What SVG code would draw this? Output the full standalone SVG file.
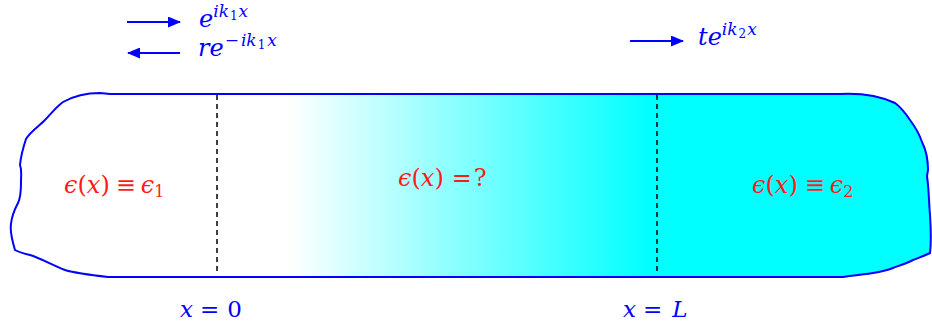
<svg xmlns="http://www.w3.org/2000/svg" width="932" height="325" viewBox="0 0 932 325">
<style>
.m{font-family:"DejaVu Serif","Liberation Serif",serif}
.top{font-size:24px}
.lab{font-size:24px}
.bot{font-size:23px}
.b{fill:#0000ff}
.r{fill:#ff1a1a}
.i{font-style:italic}
.sup{font-size:17px}
.sub{font-size:12px}
.sub2{font-size:16px}
.arr{stroke:#0000ff;stroke-width:2;fill:none}
.dash{stroke:#000;stroke-width:1.5;stroke-dasharray:5,4;fill:none}
</style>
<defs>
<linearGradient id="g" gradientUnits="userSpaceOnUse" x1="290" y1="0" x2="650" y2="0">
<stop offset="0" stop-color="#ffffff"/>
<stop offset="1" stop-color="#00ffff"/>
</linearGradient>
<marker id="ah" viewBox="0 0 13 11" refX="12" refY="5.5" markerWidth="13" markerHeight="11" orient="auto" markerUnits="userSpaceOnUse">
<path d="M0,0 L13,5.5 L0,11 z" fill="#0000ff"/>
</marker>
</defs>
<g id="slab">
<path d="M110,94 L840,94 C860,93 880,96 895,103 C902,108 906,114 910,120 C916,128 920,136 922,142 C926,150 928,160 928,170 L927,176 C929,190 929,205 930,215 C931,230 931,245 930,253 C924,256 918,258 913,260 C905,264 898,266 893,268 C885,271 879,272 873,273 C860,275 850,276 843,277 L108,277 C90,275 75,273 65,270 C50,264 40,258 30,255 C22,253 18,252 15,250 C12,240 10,230 11,224 C12,214 15,209 18,203 C21,197 21,190 21,182 C21,175 22,170 20,165 C21,155 23,148 26,139 C30,132 40,125 44,121 C50,115 55,108 63,102 C72,97 85,93 100,93 Z" fill="url(#g)" stroke="#0000ff" stroke-width="2"/>
</g>
<g id="interfaces">
<line class="dash" x1="217" y1="95" x2="217" y2="272"/>
<line class="dash" x1="657" y1="95" x2="657" y2="272"/>
</g>
<g id="connectors">
<line class="arr" x1="127" y1="22" x2="180" y2="22" marker-end="url(#ah)"/>
<line class="arr" x1="180" y1="53" x2="128" y2="53" marker-end="url(#ah)"/>
<line class="arr" x1="630" y1="41" x2="683" y2="41" marker-end="url(#ah)"/>
</g>
<g id="incident">
<text class="m top b" x="199" y="27"><tspan class="i">e</tspan><tspan class="i sup" dy="-10">ik</tspan><tspan class="sub" dx="1" dy="3">1</tspan><tspan class="i sup" dx="1" dy="-3">x</tspan></text>
</g>
<g id="reflected">
<text class="m top b" x="198" y="56"><tspan class="i">re</tspan><tspan class="sup" dx="1" dy="-10">−</tspan><tspan class="i sup" dx="2">ik</tspan><tspan class="sub" dx="1" dy="3">1</tspan><tspan class="i sup" dx="2" dy="-3">x</tspan></text>
</g>
<g id="transmitted">
<text class="m top b" x="698" y="45"><tspan class="i">te</tspan><tspan class="i sup" dy="-10">ik</tspan><tspan class="sub" dx="1" dy="3">2</tspan><tspan class="i sup" dx="1" dy="-3">x</tspan></text>
</g>
<g id="region1">
<text class="m lab r" x="64" y="193"><tspan class="i">ϵ</tspan>(<tspan class="i">x</tspan>)<tspan dx="6">≡</tspan><tspan class="i" dx="5">ϵ</tspan><tspan class="sub2" dy="4">1</tspan></text>
</g>
<g id="region-mid">
<text class="m lab r" x="398" y="186"><tspan class="i">ϵ</tspan>(<tspan class="i">x</tspan>)<tspan dx="8">=</tspan><tspan dx="2">?</tspan></text>
</g>
<g id="region2">
<text class="m lab r" x="752" y="193"><tspan class="i">ϵ</tspan>(<tspan class="i">x</tspan>)<tspan dx="7">≡</tspan><tspan class="i" dx="5">ϵ</tspan><tspan class="sub2" dy="4">2</tspan></text>
</g>
<g id="label-x0">
<text class="m bot b" x="180" y="317"><tspan class="i">x</tspan><tspan dx="7">=</tspan><tspan dx="8">0</tspan></text>
</g>
<g id="label-xL">
<text class="m bot b" x="623" y="317"><tspan class="i">x</tspan><tspan dx="7">=</tspan><tspan class="i" dx="10">L</tspan></text>
</g>
</svg>
